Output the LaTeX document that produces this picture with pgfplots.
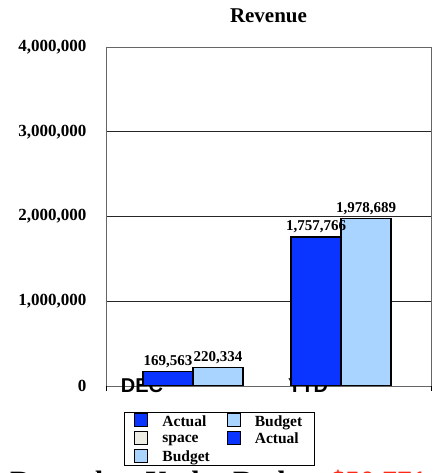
\documentclass[border=0pt]{standalone}
\usepackage{fontspec}
\setmainfont{Liberation Serif}
\newfontfamily\arialfont{Liberation Sans}
\usepackage{pgfplots}
\pgfplotsset{compat=1.18}
\definecolor{actualblue}{RGB}{10,52,255}
\definecolor{budgetblue}{RGB}{168,212,255}
\definecolor{spacegray}{RGB}{237,237,228}
\definecolor{redtxt}{RGB}{255,40,20}

\begin{document}
\begin{tikzpicture}
\begin{axis}[
    at={(106pt,87pt)}, anchor=south west,
    scale only axis,
    width=325pt, height=339pt,
    xmin=-0.588, xmax=1.608,
    ymin=0, ymax=4000000,
    scaled y ticks=false,
    ybar=0pt, bar width=0.338,
    axis line style={draw=black!60, line width=0.9pt},
    ymajorgrids,
    grid style={draw=black!85, line width=0.9pt},
    ytick={0,1000000,2000000,3000000,4000000},
    yticklabels={0,{1,000,000},{2,000,000},{3,000,000},{4,000,000}},
    yticklabel style={font=\fontsize{17}{19}\selectfont\bfseries, xshift=-16pt},
    xtick={-0.345,0.777},
    xticklabels={DEC,YTD},
    xticklabel style={font=\arialfont\fontsize{20}{22}\selectfont\bfseries, anchor=center, yshift=0pt},
    major tick length=0pt,
    xtick pos=bottom, ytick pos=left,
    extra x ticks={-0.588,1.608},
    extra x tick labels={},
    extra x tick style={major tick length=5pt, tick align=outside, tick style={draw=black, line width=0.8pt}},
    nodes near coords,
    nodes near coords style={font=\fontsize{15}{17}\selectfont\bfseries, black,
        /pgf/number format/.cd, fixed, precision=0, 1000 sep={,}, assume math mode=true},
    legend columns=2,
    legend cell align=left,
    legend style={at={(0.0554,-0.0767)}, anchor=north west, draw=black, line width=0.9pt,
        font=\fontsize{15.5}{17}\selectfont\bfseries, inner xsep=10pt, inner ysep=0.5pt,
        row sep=1.2pt,
        /tikz/every even column/.append style={column sep=15pt}},
    legend image code/.code={\draw[#1, draw=black, line width=0.9pt] (0pt,-5pt) rectangle (13pt,8pt); \path (25pt,0pt);},
]
\addplot[fill=actualblue, draw=black, line width=1.1pt] coordinates {(0,169563) (1,1757766)};
\addlegendentry{Actual}
\addplot[fill=budgetblue, draw=black, line width=1.1pt] coordinates {(0,220334) (1,1978689)};
\addlegendentry{Budget}
\addlegendimage{fill=spacegray, draw=black}
\addlegendentry{space}
\addlegendimage{fill=actualblue, draw=black}
\addlegendentry{Actual}
\addlegendimage{fill=budgetblue, draw=black}
\addlegendentry{Budget}
\end{axis}
\node[anchor=base, font=\fontsize{21}{23}\selectfont\bfseries, inner sep=0pt] at (268.5pt,450pt) {Revenue};
\node[anchor=base west, font=\fontsize{29.5}{32}\selectfont\bfseries, inner sep=0pt] at (10pt,-18pt) {December Under Budget \textcolor{redtxt}{\$50,771}};
\pgfresetboundingbox
\path[use as bounding box] (0pt,0pt) rectangle (438pt,473pt);
\end{tikzpicture}
\end{document}
